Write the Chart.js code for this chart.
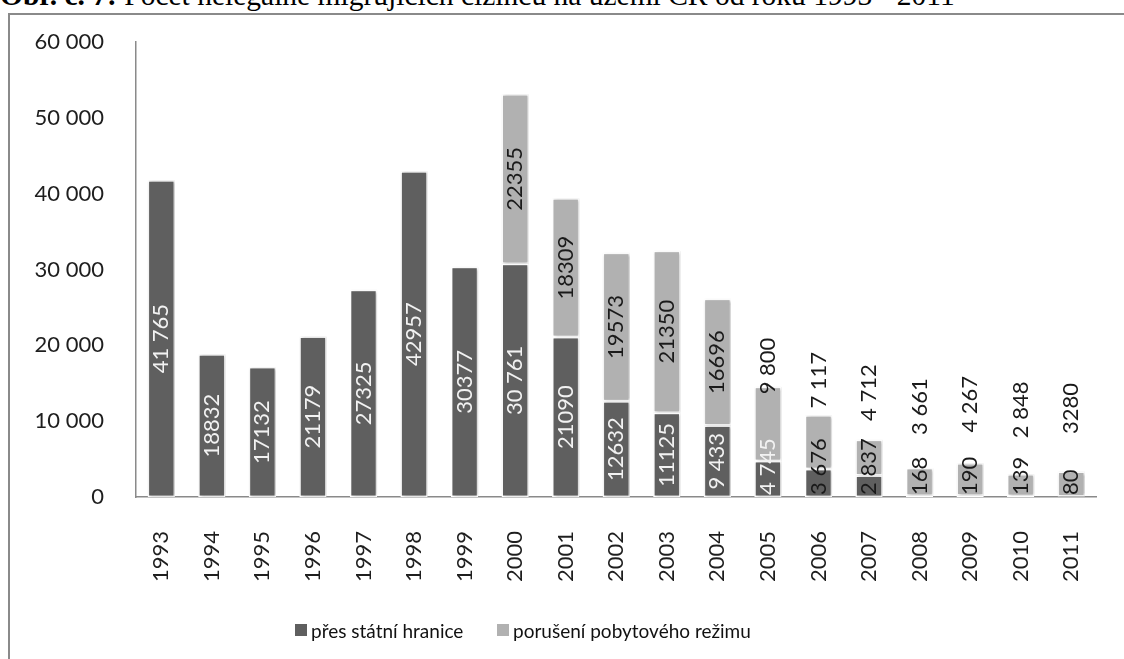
<!DOCTYPE html>
<html><head><meta charset="utf-8">
<script src="https://cdn.jsdelivr.net/npm/chart.js@4.4.1/dist/chart.umd.min.js"></script>
<style>
html,body{margin:0;padding:0;background:#fff;width:1124px;height:659px;overflow:hidden;}
#frame{position:absolute;left:8px;top:13px;width:1130px;height:700px;border-left:2px solid #8a8a8a;border-top:2px solid #8a8a8a;box-sizing:border-box;}
#title{position:absolute;left:0;top:-19.5px;font-family:"Liberation Serif","Times New Roman",serif;font-size:29.5px;line-height:29.5px;white-space:nowrap;color:#000;}
#wrap{position:absolute;left:0;top:0;width:1124px;height:659px;}
.lg{position:absolute;top:619px;height:22px;display:flex;align-items:center;font-family:Lato,sans-serif;font-size:19px;color:#111;white-space:nowrap;}
.lg i{display:inline-block;width:12px;height:12px;margin-right:4px;}
</style></head>
<body>
<div id="frame"></div>
<div id="title"><b>Obr. č. 7:</b> Počet nelegálně migrujících cizinců na území ČR od roku 1993 - 2011</div>
<div id="wrap"><canvas id="c" width="1124" height="659"></canvas></div>
<div class="lg" id="lg0" style="left:295px"></div>
<div class="lg" id="lg1" style="left:497px"></div>
<script>
const years = ['1993','1994','1995','1996','1997','1998','1999','2000','2001','2002','2003','2004','2005','2006','2007','2008','2009','2010','2011'];
const seriesNames = ['přes státní hranice','porušení pobytového režimu'];
const borderCrossing = [41765,18832,17132,21179,27325,42957,30377,30761,21090,12632,11125,9433,4745,3676,2837,168,190,139,80];
const stayViolation = [null,null,null,null,null,null,null,22355,18309,19573,21350,16696,9800,7117,4712,3661,4267,2848,3280];
const borderLabels = ['41 765','18832','17132','21179','27325','42957','30377','30 761','21090','12632','11125','9 433','4 745','3 676','2 837','168','190','139','80'];
const stayLabels = ['','','','','','','','22355','18309','19573','21350','16696','9 800','7 117','4 712','3 661','4 267','2 848','3280'];
const yTickLabels = ['0','10 000','20 000','30 000','40 000','50 000','60 000'];
const colors = ['#5f5f5f','#b1b1b1'];

const FONT = 'Lato, sans-serif';

const shadowPlugin = {
  id:'shadow',
  beforeDatasetsDraw(chart){const c=chart.ctx;c.save();c.shadowColor='rgba(0,0,0,0.28)';c.shadowBlur=3;c.shadowOffsetX=1.2;c.shadowOffsetY=0.5;},
  afterDatasetsDraw(chart){chart.ctx.restore();}
};

const labelPlugin = {
  id:'segLabels',
  afterDatasetsDraw(chart){
    const ctx = chart.ctx;
    const yScale = chart.scales.y;
    ctx.save();
    ctx.font = '22px ' + FONT;
    const sets = [{lab:borderLabels,color:'#f2f2f2',alt:'#1a1a1a'},{lab:stayLabels,color:'#1a1a1a'}];
    sets.forEach((s,di)=>{
      const meta = chart.getDatasetMeta(di);
      meta.data.forEach((el,i)=>{
        const txt = s.lab[i];
        if(!txt) return;
        const p = el.getProps(['x','y','base'],true);
        const top = Math.min(p.y,p.base), bot = Math.max(p.y,p.base);
        const h = bot-top;
        const w = ctx.measureText(txt).width;
        ctx.save();
        if(di===0){
          if(w+6<=h){
            ctx.fillStyle = s.color;
            ctx.translate(p.x,(top+bot)/2);ctx.rotate(-Math.PI/2);
            ctx.textAlign='center';ctx.textBaseline='middle';ctx.fillText(txt,0,0);
          }else{
            ctx.fillStyle = (h >= w/2) ? s.color : s.alt;
            ctx.translate(p.x,bot-2);ctx.rotate(-Math.PI/2);
            ctx.textAlign='left';ctx.textBaseline='middle';ctx.fillText(txt,0,0);
          }
        }else{
          ctx.fillStyle = s.color;
          if(w+20<=h){
            ctx.translate(p.x,(top+bot)/2);ctx.rotate(-Math.PI/2);
          }else{
            ctx.translate(p.x,(top+yScale.getPixelForValue(20000))/2);ctx.rotate(-Math.PI/2);
          }
          ctx.textAlign='center';ctx.textBaseline='middle';ctx.fillText(txt,0,0);
        }
        ctx.restore();
      });
    });
    ctx.restore();
  }
};

seriesNames.forEach((n,i)=>{
  document.getElementById('lg'+i).innerHTML = '<i style="background:'+colors[i]+'"></i>'+n;
});

new Chart(document.getElementById('c'),{
  type:'bar',
  data:{
    labels:years,
    datasets:[
      {label:seriesNames[0],data:borderCrossing,backgroundColor:colors[0],borderColor:'#ffffff',borderWidth:1.5,borderSkipped:false},
      {label:seriesNames[1],data:stayViolation,backgroundColor:colors[1],borderColor:'#ffffff',borderWidth:1.5,borderSkipped:false}
    ]
  },
  options:{
    responsive:false,animation:false,
    layout:{padding:{left:0,top:42,right:14,bottom:72}},
    datasets:{bar:{categoryPercentage:1,barPercentage:0.54}},
    plugins:{legend:{display:false},tooltip:{enabled:false},title:{display:false}},
    scales:{
      x:{stacked:true,
        grid:{display:false},
        border:{display:true,color:'#8a8a8a',width:1.5},
        ticks:{autoSkip:false,minRotation:90,maxRotation:90,padding:26,color:'#1e1e1e',font:{family:FONT,size:22}},
        afterFit(s){s.height=90;}
      },
      y:{stacked:true,min:0,max:60000,
        grid:{display:false},
        border:{display:true,color:'#8a8a8a',width:1.5},
        ticks:{stepSize:10000,padding:24,color:'#1e1e1e',font:{family:FONT,size:22},callback:(v,i)=>yTickLabels[i]},
        afterFit(s){s.width=136;}
      }
    }
  },
  plugins:[shadowPlugin,labelPlugin]
});
</script>
</body></html>
